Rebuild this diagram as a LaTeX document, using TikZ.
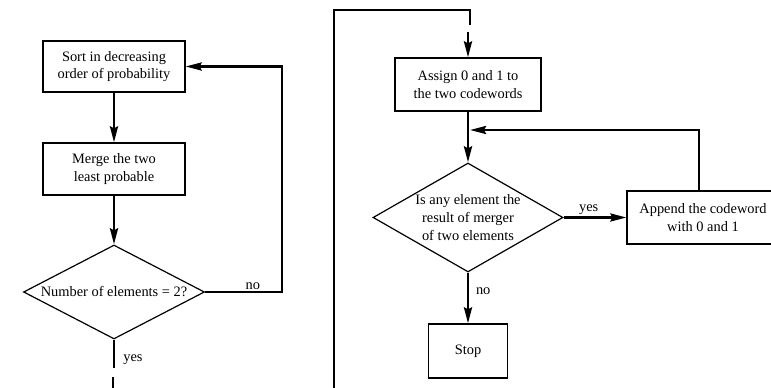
\documentclass[tikz,border=0pt]{standalone}
\usepackage{fontspec}
\setmainfont{Liberation Serif}
\usetikzlibrary{positioning, shapes.geometric, arrows.meta}
\newcommand{\flowFont}{\fontsize{10.8}{13.3}\selectfont}
\tikzstyle{pixelGrid} = [x = 0.75pt, y = -0.75pt]
\tikzstyle{stepBox} = [draw, line width=0.9pt, align=center, inner sep=0pt, font=\flowFont]
\tikzstyle{testDiamond} = [draw, diamond, line width=0.9pt, align=center, inner sep=0pt, font=\flowFont]
\tikzstyle{flowLine} = [line width=2pt]
\tikzstyle{flowArrow} = [flowLine, -{Stealth[length=12pt, width=6pt, inset=1.5pt]}]
\tikzstyle{linkLine} = [line width=0.8pt]
\tikzstyle{flowLabel} = [font=\flowFont, inner sep=1pt]

\begin{document}
\begin{tikzpicture}[pixelGrid]
              \useasboundingbox (0,0) rectangle (771,388);
              \clip (0,0) rectangle (771,388);

              % sorting and merging loop
              \node [stepBox, minimum width=142*0.75pt, minimum height=51*0.75pt] (sort) at (114,66.5) {Sort in decreasing\\order of probability};
              \node [stepBox, minimum width=142*0.75pt, minimum height=52*0.75pt] (merge) at (114,169) {Merge the two\\least probable};
              \node [testDiamond, aspect=1.93, minimum width=181*0.75pt, minimum height=94*0.75pt] (count) at (114,292) {Number of elements = 2?};
              \coordinate (noTurn) at (282,292);
              \coordinate (yesEnd) at (114,368);
              \coordinate (outTop) at (113,377);
              \coordinate (outBottom) at (113,392);

              \draw [flowArrow] (sort) -- (merge);
              \draw [flowArrow] (merge) -- (count);
              \draw [flowArrow] (count.east) -- node [flowLabel, above, pos=.62] {no} (noTurn) |- (sort.east);
              \draw [flowLine] (count.south) -- node [flowLabel, right=5pt, pos=.7] {yes} (yesEnd);
              \draw [linkLine] (outTop) -- (outBottom);

              % link over to the code assignment
              \coordinate (linkBottom) at (334,392);
              \coordinate (linkTop) at (470,10);
              \coordinate (linkEnd) at (470,25);
              \coordinate (inStart) at (468,32);
              \draw [linkLine] (linkBottom) |- (linkTop) -- (linkEnd);

              % code assignment loop
              \node [stepBox, minimum width=146*0.75pt, minimum height=53*0.75pt] (assign) at (468,84.5) {Assign 0 and 1 to\\the two codewords};
              \node [testDiamond, aspect=1.74, minimum width=190*0.75pt, minimum height=109*0.75pt] (elem) at (468,217.5) {Is any element the\\result of merger\\of two elements};
              \node [stepBox, minimum width=152*0.75pt, minimum height=53*0.75pt] (append) at (703,217.5) {Append the codeword\\with 0 and 1};
              \node [stepBox, minimum width=79*0.75pt, minimum height=54*0.75pt] (stop) at (468,351) {Stop};
              \coordinate (appendTop) at (699,191);
              \coordinate (joinPoint) at (470,130);

              \draw [flowArrow] (inStart) -- (assign.north);
              \draw [flowArrow] (assign) -- (elem);
              \draw [flowArrow] (elem.east) -- node [flowLabel, above, pos=.4] {yes} (append.west);
              \draw [flowArrow] (appendTop) |- (joinPoint);
              \draw [flowArrow] (elem.south) -- node [flowLabel, right=4pt, pos=.37] {no} (stop.north);
            \end{tikzpicture}
\end{document}
